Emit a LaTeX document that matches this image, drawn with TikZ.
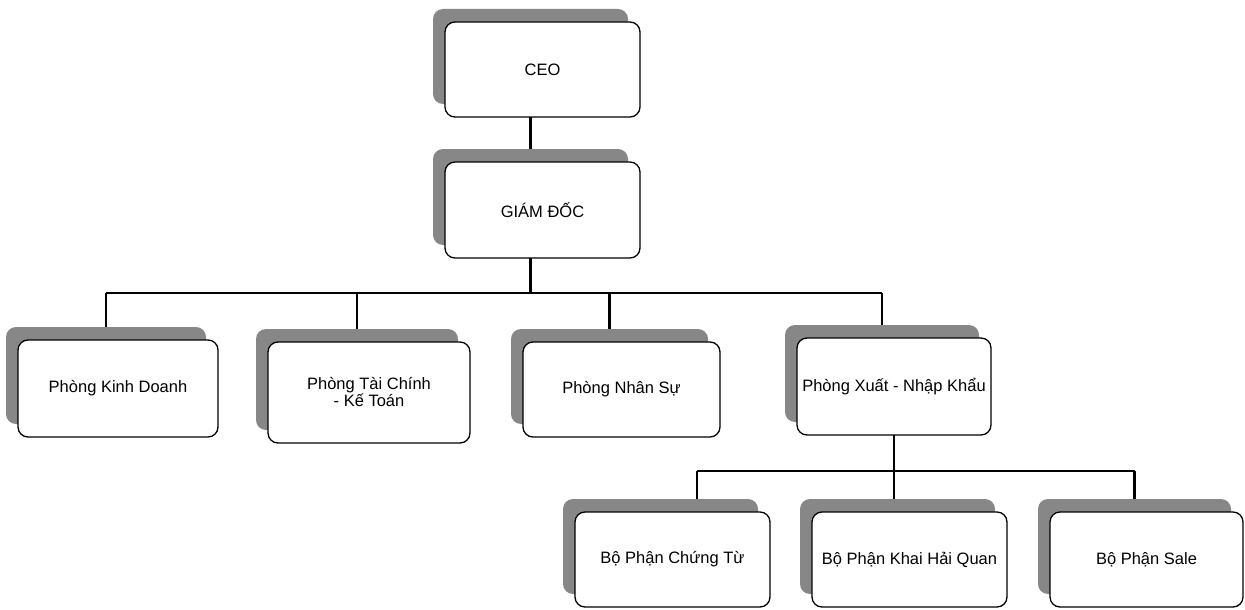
\documentclass[tikz,border=0pt]{standalone}
\usepackage{fontspec}
\setmainfont{Liberation Sans}
\usetikzlibrary{backgrounds}
\tikzset{
  shadowbox/.style={fill={rgb,255:red,135;green,135;blue,135}, rounded corners=10pt, inner sep=0pt},
  whitebox/.style={fill=white, draw=black, line width=1.3pt, rounded corners=10pt, inner sep=0pt, align=center, font=\fontsize{16.5}{19}\selectfont},
  conn/.style={draw=black, line width=2.2pt}
}
\newcommand\mkbox[6]{%
  \node[shadowbox, minimum width=#4pt, minimum height=#5pt] (#1-s) at (#2-12,#3-13) {};
  \node[whitebox, minimum width=#4pt, minimum height=#5pt] (#1) at (#2,#3) {#6};
}
\begin{document}
\begin{tikzpicture}[x=1pt,y=-1pt]
\useasboundingbox (0,0) rectangle (1245,610);
\mkbox{ceo}{542.5}{69.5}{195}{95}{CEO}
\mkbox{gd}{542.5}{210}{195}{96}{GIÁM ĐỐC}
\mkbox{kd}{118}{388.5}{200}{97}{Phòng Kinh Doanh}
\mkbox{tc}{369}{392.5}{202}{101}{Phòng Tài Chính\\[-2pt]- Kế Toán}
\mkbox{ns}{621.5}{389.5}{197}{95}{Phòng Nhân Sự}
\mkbox{xnk}{894}{386.5}{194}{97}{Phòng Xuất - Nhập Khẩu}
\mkbox{ct}{672.5}{559.5}{195}{95}{Bộ Phận Chứng Từ}
\mkbox{hq}{909.5}{559.5}{195}{95}{Bộ Phận Khai Hải Quan}
\mkbox{sale}{1146.5}{559.5}{193}{95}{Bộ Phận Sale}
\coordinate (bus1) at (0,293);
\coordinate (bus2) at (0,471);
\coordinate (ctj) at (697,471);
\begin{scope}[on background layer]
  \fill[white] (0,0) rectangle (1245,610);
  \draw[conn] (ceo-s.center) -- (gd-s.center);
  \draw[conn] (gd-s.center) -- (gd-s.center |- bus1);
  \draw[conn] (kd-s.center |- bus1) -- (xnk-s.center |- bus1);
  \draw[conn] (kd-s.center |- bus1) -- (kd-s.center);
  \draw[conn] (tc-s.center |- bus1) -- (tc-s.center);
  \draw[conn] (ns-s.center |- bus1) -- (ns-s.center);
  \draw[conn] (xnk-s.center |- bus1) -- (xnk-s.center);
  \draw[conn] (xnk.center) -- (xnk.center |- hq-s.center);
  \draw[conn] (ctj) -- (sale-s.center |- bus2);
  \draw[conn] (ctj) -- (ctj |- ct-s.center);
  \draw[conn] (sale-s.center |- bus2) -- (sale-s.center);
\end{scope}
\end{tikzpicture}
\end{document}
